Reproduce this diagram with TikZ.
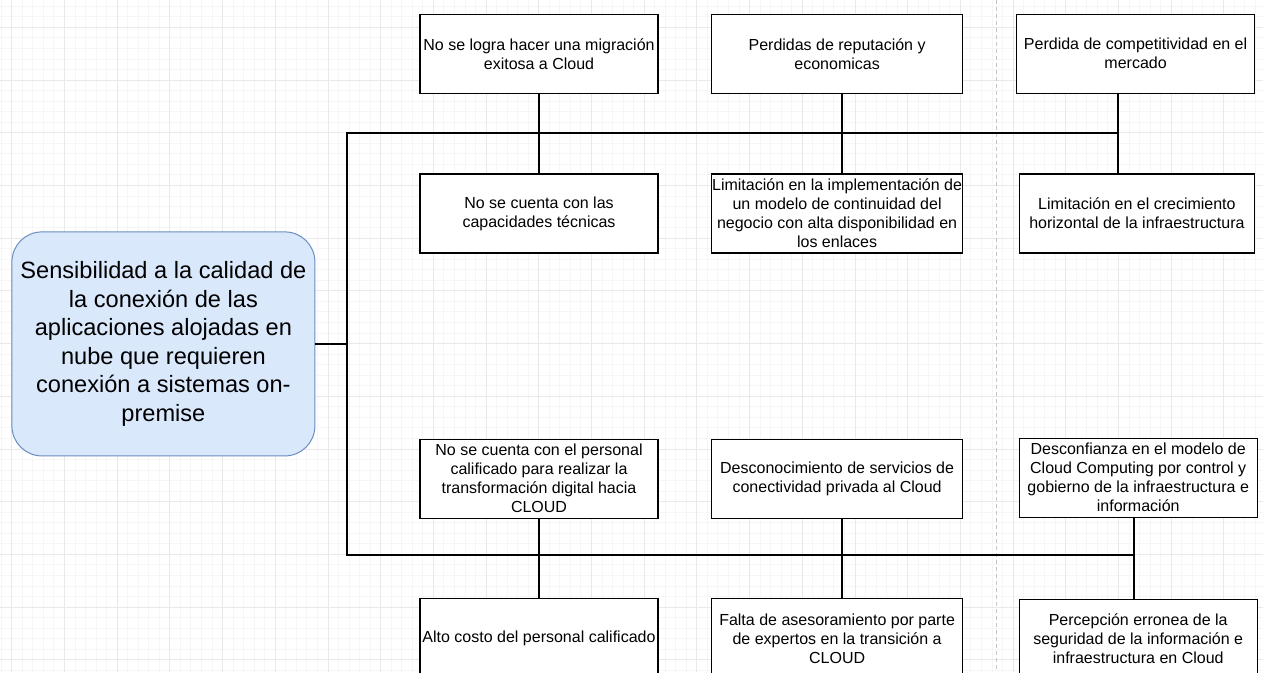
\documentclass[tikz,border=0pt]{standalone}
\usepackage{fontspec}
\setmainfont{Liberation Sans}
\usepackage{xcolor}
\usetikzlibrary{positioning}
\definecolor{problemfill}{HTML}{DAE8FC}
\definecolor{problemdraw}{HTML}{6C8EBF}

\begin{document}
\begin{tikzpicture}[
    x=1pt, y=1pt,
    problem/.style={rectangle, rounded corners=30pt, draw=problemdraw, line width=1pt, fill=problemfill, minimum width=303pt, minimum height=224pt, align=center, inner sep=0pt, font=\fontsize{23.6}{28.6}\selectfont},
    cause/.style={rectangle, draw, line width=1.3pt, fill=white, minimum width=238pt, minimum height=79pt, align=center, inner sep=0pt, font=\fontsize{16}{19}\selectfont},
    widecause/.style={cause, minimum width=251pt},
    bus/.style={line width=2pt},
    minorgrid/.style={gray!7, line width=0.8pt},
    majorgrid/.style={gray!17, line width=0.8pt}
]
    \useasboundingbox (0,0) rectangle (1263,-672);
    % background grid and page break
    \begin{scope}[shift={(11.7,-27.3)}]
        \draw[minorgrid, step=10.54pt] (-11.7,-644.7) grid (1251.3,27.3);
        \draw[majorgrid, step=52.7pt] (-11.7,-644.7) grid (1251.3,27.3);
    \end{scope}
    \draw[gray!45, line width=0.8pt, dash pattern=on 4pt off 3pt] (996.7,0) -- (996.7,-672);

    \node[problem] (problem) at (163.4,-343.9) {Sensibilidad a la calidad de\\la conexión de las\\aplicaciones alojadas en\\nube que requieren\\conexión a sistemas on-\\premise};

    % effects
    \node[cause] (a1) at (539,-53.7) {No se logra hacer una migración\\exitosa a Cloud};
    \node[widecause, right=52.3pt of a1] (a2) {Perdidas de reputación y\\economicas};
    \node[cause, right=52.7pt of a2] (a3) {Perdida de competitividad en el\\mercado};
    \node[cause, below=79.4pt of a1] (b1) {No se cuenta con las\\capacidades técnicas};
    \node[widecause, below=79.4pt of a2] (b2) {Limitación en la implementación de\\un modelo de continuidad del\\negocio con alta disponibilidad en\\los enlaces};
    \node[cause, below=79.4pt of a3, minimum width=235.4pt, xshift=1.3pt] (b3) {Limitación en el crecimiento\\horizontal de la infraestructura};

    % causes
    \node[cause, below=185pt of b1] (c1) {No se cuenta con el personal\\calificado para realizar la\\transformación digital hacia\\CLOUD};
    \node[widecause, below=185pt of b2] (c2) {Desconocimiento de servicios de\\conectividad privada al Cloud};
    \node[cause, below=184pt of b3, xshift=1.3pt] (c3) {Desconfianza en el modelo de\\Cloud Computing por control y\\gobierno de la infraestructura e\\información};
    \node[cause, below=79.3pt of c1] (d1) {Alto costo del personal calificado};
    \node[widecause, below=79.3pt of c2] (d2) {Falta de asesoramiento por parte\\de expertos en la transición a\\CLOUD};
    \node[cause, below=80.7pt of c3] (d3) {Percepción erronea de la\\seguridad de la información e\\infraestructura en Cloud};

    \coordinate (topbus) at (346.7,-132.7);
    \coordinate (botbus) at (346.7,-555.2);
    \coordinate (j2) at (842.3,0);
    \coordinate (j3) at (1118.3,0);
    \coordinate (k3) at (1134,0);

    \draw[bus] (problem.east) -- (problem.east -| topbus);
    \draw[bus] (topbus -| j3) -- (topbus) -- (botbus) -- (botbus -| k3);
    \draw[bus] (a1.south) -- (b1.north);
    \draw[bus] (a2.south -| j2) -- (b2.north -| j2);
    \draw[bus] (a3.south -| j3) -- (b3.north -| j3);
    \draw[bus] (c1.south) -- (d1.north);
    \draw[bus] (c2.south -| j2) -- (d2.north -| j2);
    \draw[bus] (c3.south -| k3) -- (d3.north -| k3);
\end{tikzpicture}
\end{document}
